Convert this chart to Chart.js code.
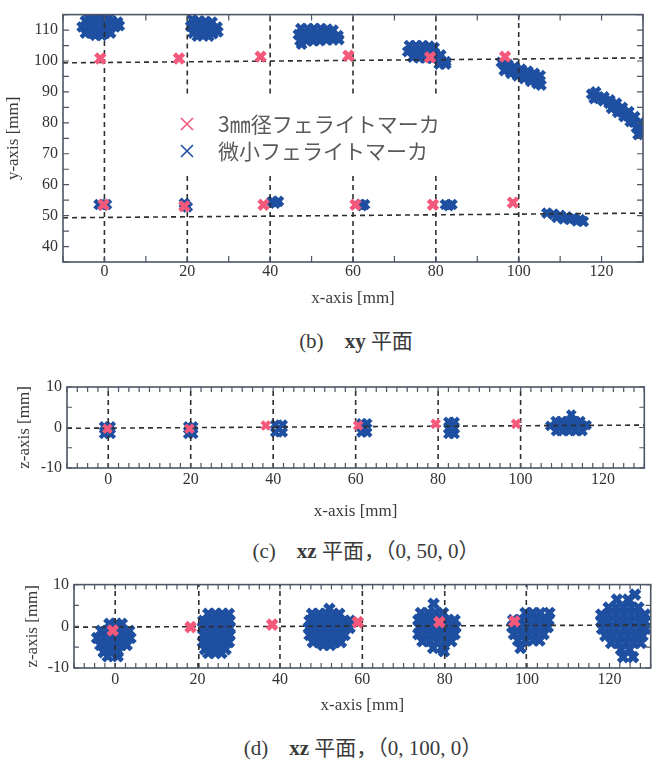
<!DOCTYPE html>
<html>
<head>
<meta charset="utf-8">
<script src="https://cdn.jsdelivr.net/npm/chart.js@4.4.0/dist/chart.umd.min.js"></script>
<style>
  html, body { margin: 0; padding: 0; background: #fff; overflow: hidden; }
  body { width: 654px; height: 764px; position: relative; }
  .plot { position: absolute; left: 0; }
  .cap {
    position: absolute; white-space: nowrap; color: #3a3a3a;
    font-family: "Liberation Serif", "Noto Sans CJK JP", serif; font-size: 21px;
    transform: translate(-50%, -50%);
  }
  .cap b { font-weight: bold; }
</style>
</head>
<body>
<div class="plot" style="top:0;width:654px;height:322px"><canvas id="xy"></canvas></div>
<div class="cap" style="left:356px;top:339px">(b)　<b>xy</b> 平面</div>
<div class="plot" style="top:370px;width:654px;height:160px"><canvas id="xz50"></canvas></div>
<div class="cap" style="left:366px;top:549px">(c)　<b>xz</b> 平面，（0, 50, 0）</div>
<div class="plot" style="top:570px;width:662px;height:160px"><canvas id="xz100"></canvas></div>
<div class="cap" style="left:363px;top:746px">(d)　<b>xz</b> 平面，（0, 100, 0）</div>

<script>
// tick labels
const xTicks = [0, 20, 40, 60, 80, 100, 120];
const yTicksXY = [40, 50, 60, 70, 80, 90, 100, 110];
const zTicks = [-10, 0, 10];

const legendLabels = ['3㎜径フェライトマーカ', '微小フェライトマーカ'];
const refColor = '#f4587a';
const microColor = '#1e4fa0';

// (b) xy plane: 3mm markers
const xyRef = [[-1, 100.8], [18, 100.8], [37.7, 101.4], [58.9, 101.7], [78.6, 101.2], [96.7, 101.4],
  [-0.2, 53.5], [19.3, 53], [38.4, 53.5], [60.6, 53.5], [79.3, 53.5], [98.6, 54.2]];

// (b) xy plane: micro markers (clouds)
const xyMicro = [
  [-3.8, 114], [-2.2, 114.2], [-0.6, 114.2], [1, 114],
  [-4.6, 113], [-3, 113], [-1.4, 113], [0.2, 113], [1.8, 113], [3.2, 112.6],
  [-5.4, 111], [-3.8, 111], [-2.2, 111], [-0.6, 111], [1, 111], [2.6, 111], [3.6, 111.4],
  [-4.6, 109], [-3, 109], [-1.4, 109], [0.2, 109], [1.5, 109], [-2.2, 108.3], [-0.6, 108.3],
  [21.2, 113.4], [22.8, 113], [24.4, 112.8], [26, 112.6],
  [20.8, 111.2], [22.4, 111], [24, 111], [25.6, 111], [27.2, 111],
  [21.4, 109], [23, 108.8], [24.6, 108.8], [26.2, 108.8], [27.4, 109.4], [22.4, 108], [25.2, 108],
  [47.4, 110.5], [49, 110.5], [50.6, 110.5], [52.2, 110.5], [53.8, 110.3], [55.2, 110],
  [46.8, 108.5], [48.4, 108.5], [50, 108.5], [51.6, 108.5], [53.2, 108.5], [54.8, 108.5], [56.4, 108.2],
  [47.2, 106.5], [48.8, 106.5], [50.4, 106.5], [52, 106.6], [53.6, 106.8], [55.2, 106.8], [56.6, 106.9],
  [47.6, 105.4],
  [73.6, 105], [75.2, 105], [76.8, 105], [78.4, 104.8], [79.6, 104.4],
  [73.2, 103], [74.8, 103], [76.4, 103], [78, 103], [79.6, 102.6], [81.2, 102],
  [74.4, 101.2], [76, 101], [77.6, 101], [79.2, 100.8], [80.8, 100.4], [82.4, 99.8],
  [80.8, 99], [82.4, 99],
  [95.8, 99.6], [97.4, 98.9], [99, 98.1], [100.6, 97.4], [102.2, 96.7], [103.8, 96], [105.2, 95.3],
  [97, 98], [98.6, 97.2], [100.2, 96.4], [101.8, 95.6], [103.4, 94.8], [104.8, 94],
  [96.5, 96.9], [98.1, 96], [99.7, 95.2], [101.3, 94.3], [102.9, 93.4], [104.4, 92.7], [105.4, 92.2],
  [117.6, 89.3], [119, 88.2], [120.4, 87.1], [118.6, 90], [118.2, 87.8],
  [121.8, 86.3], [123.3, 85], [124.8, 83.5], [126.3, 82.2], [127.8, 80.2], [129.2, 78.5],
  [122.4, 84.7], [123.9, 83.4], [125.4, 82], [126.9, 80.4], [128.4, 78.4], [129.6, 77],
  [120.6, 88.4], [122, 87.4], [123.6, 86.4], [125, 85], [126.6, 83.6], [128, 82], [129.4, 80.2],
  [128.8, 76.2],
  [-1.3, 53.6], [0.5, 53.6], [-0.4, 53.4],
  [19.3, 54], [20, 52.8], [19.4, 53.2],
  [40.5, 54.6], [42, 54.6], [41.2, 54],
  [61.8, 53.6], [62.8, 53.6], [62.2, 53.2],
  [82.3, 53.6], [83.9, 53.6], [83.1, 53.2],
  [106.8, 50.8], [108.4, 50.5], [110, 50.1], [111.6, 49.6], [113.2, 49.2], [114.8, 48.7], [115.6, 48.1],
  [112.4, 48.8], [114, 48.3], [109.2, 49.4], [110.8, 48.9]
];

// (b) dashed guides: vertical [x, yFrom, yTo], horizontal [x1, y1, x2, y2]
const xyGuideV = [[0, 35, 115], [20, 89.5, 115], [20, 35, 63], [40, 89.5, 115], [40, 35, 63],
  [60, 89.5, 115], [60, 35, 63], [80, 89.5, 115], [80, 35, 63], [100, 35, 115]];
const xyGuideH = [[-10, 99.4, 130, 101], [-10, 49.3, 130, 50.8]];

// (c) xz plane at (0, 50, 0)
const xz50Ref = [[-0.2, -0.3], [19.7, -0.3], [38.2, 0.5], [60.6, 0.5], [79.4, 0.9], [98.9, 0.9]];
const xz50Micro = [
  [-1, 0.3], [0.6, 0.3], [-1, -1.6], [0.6, -1.6], [-0.2, -0.6],
  [19.4, 0.3], [20.6, 0.3], [19.4, -1.6], [20.6, -1.6],
  [40.5, 0.7], [42.3, 0.7], [40.5, -1.2], [42.3, -1.2], [41.4, -0.2],
  [61.4, 1], [62.8, 1], [61.4, -1.2], [62.8, -1.2], [62.1, 0],
  [82.5, 1.4], [84, 1.4], [82.5, -0.3], [84, -0.3], [82.5, -1.6], [84, -1.6],
  [108.5, 1.6], [110, 1.6], [111.5, 1.6], [113, 1.6], [114.5, 1.6],
  [107.2, 0.4], [108.8, 0.4], [110.4, 0.4], [112, 0.4], [113.6, 0.4], [115.2, 0.4], [116, 0.6],
  [108.6, -0.9], [110.2, -0.9], [111.8, -0.9], [113.4, -0.9], [115, -0.9],
  [112.3, 3.2]
];
const xz50GuideV = [[0, -10, 10], [20, -10, 10], [40, -10, 10], [60, -10, 10], [80, -10, 10], [100, -10, 10]];
const xz50GuideH = [[-10, -0.2, 130, 0.6]];

// (d) xz plane at (0, 100, 0)
const xz100Ref = [[-0.6, -1], [18.3, -0.2], [38.1, 0.4], [58.9, 1], [78.7, 1], [96.9, 1.2]];
const xz100Micro = [
  [-1.4, 0.6], [0.3, 0.6], [1.6, 0.6],
  [-3.4, -1.1], [-1.7, -1.1], [0, -1.1], [1.7, -1.1], [3.4, -1.1],
  [-4.4, -2.8], [-2.7, -2.8], [-1, -2.8], [0.7, -2.8], [2.4, -2.8], [3.7, -2.8],
  [-3.6, -4.5], [-1.9, -4.5], [-0.2, -4.5], [1.5, -4.5], [2.8, -4.5],
  [-2.8, -6.2], [-1.1, -6.2], [0.6, -6.2], [-1.8, -7.2], [0.6, -7.2],
  [22.6, 3], [24.3, 3], [26, 3], [27.6, 3],
  [21.4, 1.3], [23.1, 1.3], [24.8, 1.3], [26.5, 1.3], [27.8, 1.3],
  [21.3, -0.4], [23, -0.4], [24.7, -0.4], [26.4, -0.4], [27.8, -0.4],
  [21.4, -2.1], [23.1, -2.1], [24.8, -2.1], [26.5, -2.1], [27.8, -2.1],
  [21.3, -3.8], [23, -3.8], [24.7, -3.8], [26.4, -3.8], [27.6, -3.8],
  [21.8, -5.5], [23.5, -5.5], [25.2, -5.5], [26.8, -5.5], [22.6, -6.4], [24.3, -6.4], [25.8, -6.4],
  [52, 4.2],
  [47.8, 3], [49.5, 3], [51.2, 3], [52.9, 3], [54.4, 3],
  [47.2, 1.3], [48.9, 1.3], [50.6, 1.3], [52.3, 1.3], [54, 1.3], [55.7, 1.3], [57, 1.3],
  [47, -0.4], [48.7, -0.4], [50.4, -0.4], [52.1, -0.4], [53.8, -0.4], [55.5, -0.4], [56.9, -0.4],
  [47.2, -2.1], [48.9, -2.1], [50.6, -2.1], [52.3, -2.1], [54, -2.1], [55.7, -2.1],
  [48, -3.8], [49.7, -3.8], [51.4, -3.8], [53.1, -3.8], [54.8, -3.8], [50.5, -4.5], [52.2, -4.5],
  [77.3, 5.4],
  [74.2, 3.2], [76, 3.2], [77.8, 3.2], [79.6, 3.2],
  [73.6, 1.5], [75.4, 1.5], [77.2, 1.5], [79, 1.5], [80.8, 1.5], [82.4, 1.5],
  [73.8, -0.2], [75.6, -0.2], [77.4, -0.2], [79.2, -0.2], [81, -0.2], [82.6, -0.2],
  [73.6, -1.9], [75.4, -1.9], [77.2, -1.9], [79, -1.9], [80.8, -1.9], [82.4, -1.9],
  [74.6, -3.6], [76.4, -3.6], [78.2, -3.6], [80, -3.6], [81.6, -3.6],
  [77.2, -5.2], [79.4, -5.2], [79.8, -6],
  [99.6, 3.2], [101.4, 3.2], [103.2, 3.2], [105.4, 3.2],
  [96.6, 1.5], [98.4, 1.5], [100.2, 1.5], [102, 1.5], [103.8, 1.5], [105.2, 1.5],
  [96.4, -0.2], [98.2, -0.2], [100, -0.2], [101.8, -0.2], [103.6, -0.2], [105, -0.2],
  [96.8, -1.9], [98.6, -1.9], [100.4, -1.9], [102.2, -1.9], [104, -1.9],
  [97.8, -3.4], [99.6, -3.4], [101.4, -3.4], [103, -3.4], [98.4, -5.2],
  [126.2, 7.6], [121.8, 6.4], [124.5, 6.4],
  [119.8, 4.5], [121.6, 4.5], [123.4, 4.5], [125.2, 4.5], [127, 4.5],
  [118, 2.8], [119.8, 2.8], [121.6, 2.8], [123.4, 2.8], [125.2, 2.8], [127, 2.8], [128.6, 2.8],
  [118, 1.1], [119.8, 1.1], [121.6, 1.1], [123.4, 1.1], [125.2, 1.1], [127, 1.1], [128.6, 1.1],
  [118.2, -0.6], [120, -0.6], [121.8, -0.6], [123.6, -0.6], [125.4, -0.6], [127.2, -0.6], [128.8, -0.6],
  [119, -2.3], [120.8, -2.3], [122.6, -2.3], [124.4, -2.3], [126.2, -2.3], [128, -2.3],
  [120.4, -4], [122.2, -4], [124, -4], [125.8, -4], [127.6, -4],
  [122.8, -5.6], [124.8, -5.6], [123.3, -7.4], [125.7, -7.4]
];
const xz100GuideV = [[0, -10, 10], [20.3, -10, 10], [40, -10, 10], [60, -10, 10], [80, -10, 10], [99.8, -10, 10]];
const xz100GuideH = [[-10, -0.2, 130, 0.3]];

Chart.defaults.font.family = '"Liberation Serif", "Times New Roman", serif';
Chart.defaults.color = '#333';

// frame and inward ticks on all four sides
const frameTicks = {
  id: 'frameTicks',
  afterDatasetsDraw(chart, args, opts) {
    const { ctx, chartArea: a, scales: { x, y } } = chart;
    ctx.save();
    ctx.strokeStyle = '#4d5566';
    ctx.lineWidth = 1.2;
    ctx.beginPath();
    for (let v = x.min; v <= x.max + 1e-6; v += opts.xStep) {
      const px = x.getPixelForValue(v);
      ctx.moveTo(px, a.bottom); ctx.lineTo(px, a.bottom - opts.len);
      ctx.moveTo(px, a.top); ctx.lineTo(px, a.top + opts.len);
    }
    for (let v = y.min; v <= y.max + 1e-6; v += opts.yStep) {
      const py = y.getPixelForValue(v);
      ctx.moveTo(a.left, py); ctx.lineTo(a.left + opts.len, py);
      ctx.moveTo(a.right, py); ctx.lineTo(a.right - opts.len, py);
    }
    ctx.stroke();
    ctx.lineWidth = 1.6;
    ctx.strokeRect(a.left, a.top, a.right - a.left, a.bottom - a.top);
    ctx.restore();
  }
};

// legend drawn inside the plot area of (b)
const insideLegend = {
  id: 'insideLegend',
  afterDatasetsDraw(chart, args, opts) {
    if (!opts.items) return;
    const ctx = chart.ctx;
    ctx.save();
    opts.items.forEach((it, i) => {
      const cy = opts.y + i * opts.gap;
      ctx.strokeStyle = it.color;
      ctx.lineWidth = 1.6;
      ctx.beginPath();
      ctx.moveTo(opts.x - 6, cy - 6); ctx.lineTo(opts.x + 6, cy + 6);
      ctx.moveTo(opts.x + 6, cy - 6); ctx.lineTo(opts.x - 6, cy + 6);
      ctx.stroke();
      ctx.fillStyle = '#5a5a5a';
      ctx.font = '21px "Noto Sans CJK JP"';
      ctx.textBaseline = 'middle';
      ctx.fillText(it.text, opts.x + 31, cy);
    });
    ctx.restore();
  }
};

function pts(list) {
  return list.map(p => ({ x: p[0], y: p[1] }));
}

function guideSets(vert, horiz) {
  const out = [];
  vert.forEach(g => out.push([{ x: g[0], y: g[1] }, { x: g[0], y: g[2] }]));
  horiz.forEach(g => out.push([{ x: g[0], y: g[1] }, { x: g[2], y: g[3] }]));
  return out.map(d => ({
    type: 'line', data: d, showLine: true, borderColor: '#2e2e2e', borderWidth: 1.6,
    borderDash: [5, 4], pointRadius: 0, fill: false, order: 1
  }));
}

function markerSet(label, list, color, r, w, order) {
  return {
    label, data: pts(list), pointStyle: 'crossRot', pointRadius: r, pointHoverRadius: r,
    pointBorderColor: color, pointBorderWidth: w, pointBackgroundColor: color, order
  };
}

function makeChart(id, cfg) {
  return new Chart(document.getElementById(id), {
    type: 'scatter',
    data: {
      datasets: [
        markerSet(legendLabels[0], cfg.ref, refColor, cfg.refR, cfg.refW, 0),
        ...guideSets(cfg.guideV, cfg.guideH),
        markerSet(legendLabels[1], cfg.micro, microColor, cfg.microR, cfg.microW, 2)
      ]
    },
    options: {
      responsive: true,
      maintainAspectRatio: false,
      animation: false,
      events: [],
      layout: { padding: cfg.pad },
      plugins: {
        legend: { display: false },
        tooltip: { enabled: false },
        frameTicks: cfg.ticks,
        insideLegend: cfg.legend || {}
      },
      scales: {
        x: {
          type: 'linear', min: -10, max: 130,
          afterBuildTicks: s => { s.ticks = xTicks.map(v => ({ value: v })); },
          afterFit: s => { s.height = cfg.xH; },
          grid: { display: false, drawTicks: false },
          border: { display: false },
          ticks: { font: { size: 16 }, padding: cfg.xTickPad, maxRotation: 0, color: '#333' },
          title: { display: true, text: 'x-axis [mm]', font: { size: 17 }, color: '#3a3a3a',
            padding: { top: 0, bottom: cfg.xTitlePad } }
        },
        y: {
          type: 'linear', min: cfg.yMin, max: cfg.yMax,
          afterBuildTicks: s => { s.ticks = cfg.yTicks.map(v => ({ value: v })); },
          afterFit: s => { s.width = cfg.yW; },
          grid: { display: false, drawTicks: false },
          border: { display: false },
          ticks: { font: { size: 16 }, padding: 5, color: '#333' },
          title: { display: true, text: cfg.yTitle, font: { size: 17 }, color: '#3a3a3a',
            padding: { top: cfg.yTitlePad, bottom: 0 } }
        }
      }
    },
    plugins: [frameTicks, insideLegend]
  });
}

makeChart('xy', {
  ref: xyRef, micro: xyMicro, guideV: xyGuideV, guideH: xyGuideH,
  refR: 6.5, refW: 4.5, microR: 6, microW: 4.5,
  pad: { top: 14, right: 4, left: 0, bottom: 0 },
  xH: 60, yW: 63, xTickPad: 0, xTitlePad: 12.8, yTitlePad: 3.8,
  yMin: 35, yMax: 115, yTicks: yTicksXY, yTitle: 'y-axis [mm]',
  ticks: { xStep: 10, yStep: 5, len: 6 },
  legend: {
    x: 187, y: 124, gap: 27,
    items: [{ text: legendLabels[0], color: refColor }, { text: legendLabels[1], color: microColor }]
  }
});

makeChart('xz50', {
  ref: xz50Ref, micro: xz50Micro, guideV: xz50GuideV, guideH: xz50GuideH,
  refR: 5.5, refW: 4, microR: 5.5, microW: 4.2,
  pad: { top: 17, right: 7, left: 0, bottom: 0 },
  xH: 62, yW: 67, xTickPad: 2.4, xTitlePad: 7.8, yTitlePad: 14.8,
  yMin: -10, yMax: 10, yTicks: zTicks, yTitle: 'z-axis [mm]',
  ticks: { xStep: 2.5, yStep: 5, len: 5 }
});

makeChart('xz100', {
  ref: xz100Ref, micro: xz100Micro, guideV: xz100GuideV, guideH: xz100GuideH,
  refR: 6.5, refW: 4.8, microR: 6.5, microW: 4.8,
  pad: { top: 14, right: 4, left: 0, bottom: 0 },
  xH: 62, yW: 74, xTickPad: 2.4, xTitlePad: 13.8, yTitlePad: 22.3,
  yMin: -10, yMax: 10, yTicks: zTicks, yTitle: 'z-axis [mm]',
  ticks: { xStep: 2.5, yStep: 5, len: 5 }
});
</script>
</body>
</html>
